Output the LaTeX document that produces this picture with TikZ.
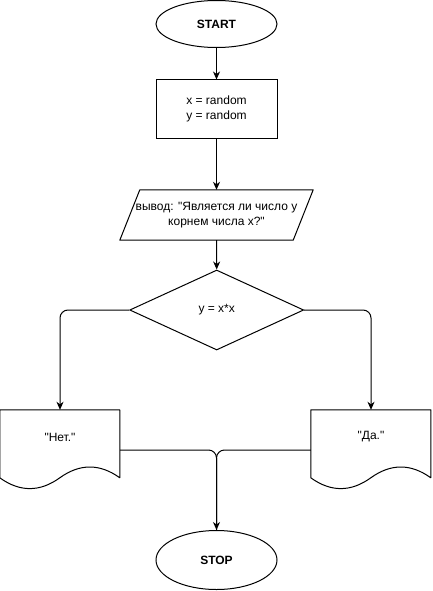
\documentclass[tikz,border=0pt]{standalone}
\usepackage{fontspec}
% keep ASCII quotes straight (no TeX input mapping)
\setmainfont{Liberation Sans}[Ligatures=TeXOff]
\usetikzlibrary{shapes.geometric,arrows.meta,calc}

\begin{document}
\begin{tikzpicture}[
  x=1pt, y=-1pt,
  every node/.style={font=\fontsize{12}{15}\selectfont, inner sep=0pt},
  outline/.style={draw=black, line width=1pt},
  terminal/.style={outline, ellipse, minimum width=121pt, fill=white},
  procbox/.style={outline, rectangle, minimum width=121pt, minimum height=58pt},
  decision/.style={outline, diamond, aspect=2.175, minimum width=174pt, minimum height=80pt},
  docbox/.style={rectangle, minimum width=120pt, minimum height=80pt},
  flow/.style={line width=1pt, -{Stealth[length=8pt,width=7pt,inset=2.5pt]}},
  plainflow/.style={line width=1pt},
  % page-style document outline, 120 x 80, drawn from its top-left corner
  docoutline/.pic={
    \draw[outline, line join=round]
      (0,0) -- (120,0) -- (120,68)
      .. controls (100,53.6) and (80,53.6) .. (60,68)
      .. controls (40,82.4) and (20,82.4) .. (0,68) -- cycle;
  }
]
\useasboundingbox (0,0) rectangle (432,591);

% terminals
\node[terminal, minimum height=47pt] (start) at (216.5,24) {\bfseries START};
\node[terminal, minimum height=59pt] (stop) at (216.5,560) {\bfseries STOP};

% assignment
\node[procbox, align=center] (init) at (216.5,109) {x = random\\y = random};

% input/output parallelogram
\node[rectangle, minimum width=193pt, minimum height=50pt, align=center] (io) at (216.5,215)
  {вывод: "Является ли число у\\корнем числа х?"};
\draw[outline, line join=round]
  ($(io.north west)+(20,0)$) -- (io.north east) -- ($(io.south east)+(-20,0)$)
  -- (io.south west) -- cycle;

% condition
\node[decision] (cond) at (216.7,310) {y = x*x};

% output documents
\node[docbox] (net) at (60,450) {};
\pic at (net.north west) {docoutline};
\node (netlabel) at ($(net.center)+(0,-13)$) {"Нет."};

\node[docbox] (da) at (371,450) {};
\pic at (da.north west) {docoutline};
\node (dalabel) at ($(da.center)+(0,-13)$) {"Да."};

% connectors
\draw[flow] (start) -- (init);
\draw[flow] (init) -- (io);
\draw[flow] (io.south) -- (cond.north);
\draw[flow, rounded corners=8pt] (cond.west) -| (net.north);
\draw[flow, rounded corners=8pt] (cond.east) -| (da.north);
\draw[plainflow, rounded corners=8pt] (net.east) -| (stop.north);
\draw[flow, rounded corners=8pt] (da.west) -| (stop.north);
\end{tikzpicture}
\end{document}
